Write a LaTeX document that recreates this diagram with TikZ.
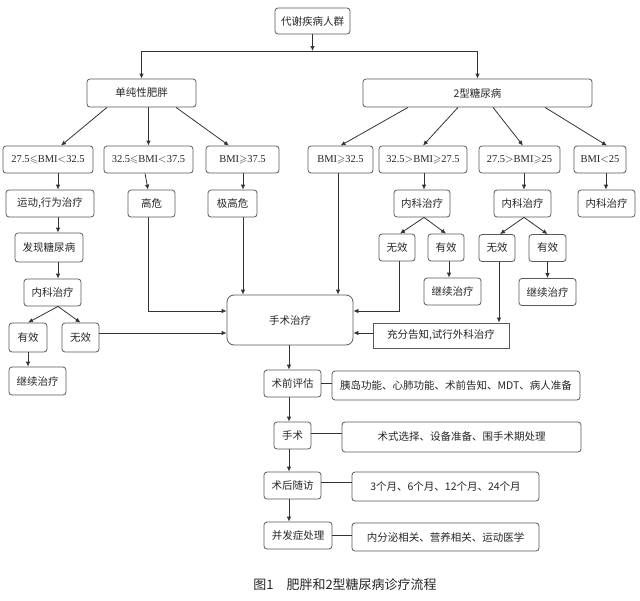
\documentclass[tikz,border=0pt]{standalone}
\usepackage{fontspec}
\usepackage{amssymb}
\usepackage{tikz}
\usetikzlibrary{arrows.meta}
\setmainfont{Liberation Serif}
\newfontfamily\cjk{Noto Sans CJK SC}
\newcommand{\boxLine}[0]{0.8pt}
\newcommand{\boxFont}[0]{\fontsize{10.5}{12}\selectfont}
\newcommand{\captionFont}[0]{\fontsize{13}{15}\selectfont}

\begin{document}
\begin{tikzpicture}[x=1pt, y=-1pt]
  \tikzset{every node/.style={font=\cjk\boxFont, text=black!85},
    box/.style={draw=black!65, line width=\boxLine, rounded corners=3pt, inner sep=0pt, minimum height=27pt},
    flatbox/.style={draw=black!65, line width=\boxLine, inner sep=0pt, minimum height=25pt},
    bmi/.style={box, font=\rmfamily\boxFont},
    link/.style={draw=black!80, line width=0.8pt, -{Latex[length=5pt,width=4.5pt]}},
    bar/.style={draw=black!80, line width=0.8pt}}
  \useasboundingbox (0,0) rectangle (640,600);
  \node[box, minimum width=75pt, minimum height=26pt] (POP) at (312.5,21) {代谢疾病人群};
  \node[box, minimum width=109pt, minimum height=28pt] (OBE) at (141.5,93) {单纯性肥胖};
  \node[box, minimum width=229pt, minimum height=28pt] (DM) at (477.5,93) {2型糖尿病};
  % BMI
  \node[bmi, minimum width=90pt] (BMI-1-1) at (48,159.5) {27.5$\leqslant$BMI$<$32.5};
  \node[bmi, minimum width=89pt] (BMI-1-2) at (148.5,159.5) {32.5$\leqslant$BMI$<$37.5};
  \node[bmi, minimum width=73pt] (BMI-1-3) at (242.5,159.5) {BMI$\geqslant$37.5};
  \node[bmi, minimum width=65pt] (BMI-2-1) at (340.5,159.5) {BMI$\geqslant$32.5};
  \node[bmi, minimum width=88pt] (BMI-2-2) at (423,159.5) {32.5$>$BMI$\geqslant$27.5};
  \node[bmi, minimum width=81pt] (BMI-2-3) at (519.5,159.5) {27.5$>$BMI$\geqslant$25};
  \node[bmi, minimum width=52pt] (BMI-2-4) at (600,159.5) {BMI$<$25};
  % left
  \node[box, minimum width=88pt] (STEP-1) at (50,203.5) {运动,行为治疗};
  \node[box, minimum width=47pt] (RISK-1) at (151.5,203.5) {高危};
  \node[box, minimum width=49pt] (RISK-2) at (232.5,203.5) {极高危};
  \node[box, minimum width=68pt, minimum height=29pt] (FIND-1) at (49,247.5) {发现糖尿病};
  \node[box, minimum width=57pt] (MED-1) at (52.5,292.5) {内科治疗};
  \node[box, minimum width=38pt, minimum height=29pt] (YES-1) at (28,337.5) {有效};
  \node[box, minimum width=37pt, minimum height=29pt] (NO-1) at (80.5,337.5) {无效};
  \node[box, minimum width=57pt, minimum height=28pt] (KEEP-1) at (37.5,381) {继续治疗};
  \node[box, rounded corners=7pt, minimum width=126pt, minimum height=50pt] (SURG) at (290,320) {手术治疗};
  % right
  \node[box, minimum width=56pt] (MED-2) at (422,203.5) {内科治疗};
  \node[box, minimum width=57pt] (MED-3) at (522.5,203.5) {内科治疗};
  \node[box, minimum width=57pt] (MED-4) at (606.5,203.5) {内科治疗};
  \node[box, minimum width=36pt] (NO-2) at (397,247.5) {无效};
  \node[box, minimum width=36pt] (YES-2) at (446,247.5) {有效};
  \node[box, minimum width=57pt] (KEEP-2) at (452.5,291.5) {继续治疗};
  \node[box, minimum width=36pt] (NO-3) at (497,248) {无效};
  \node[box, minimum width=37pt] (YES-3) at (547.5,248) {有效};
  \node[box, minimum width=57pt] (KEEP-3) at (547.5,292) {继续治疗};
  \node[flatbox, minimum width=136pt] (INFORM) at (441,335.5) {充分告知,试行外科治疗};
  % bottom
  \node[box, minimum width=57pt] (PRE) at (292.5,383.5) {术前评估};
  \node[box, minimum width=248pt, minimum height=29pt] (PRE-D) at (456,385.5) {胰岛功能、心肺功能、术前告知、MDT、病人准备};
  \node[box, minimum width=37pt] (OP) at (292.5,435.5) {手术};
  \node[box, minimum width=239pt, minimum height=30pt] (OP-D) at (461.5,437) {术式选择、设备准备、围手术期处理};
  \node[box, minimum width=57pt] (POST) at (292.5,485.5) {术后随访};
  \node[box, minimum width=187pt, minimum height=29pt] (POST-D) at (445.5,486.5) {3个月、6个月、12个月、24个月};
  \node[box, minimum width=68pt] (COMP) at (298,535.5) {并发症处理};
  \node[box, minimum width=187pt, minimum height=28pt] (COMP-D) at (445.5,537) {内分泌相关、营养相关、运动医学};
  \node[font=\cjk\captionFont] (CAPTION) at (345,585) {图1\quad 肥胖和2型糖尿病诊疗流程};
  \coordinate (SPLIT) at (312.5,51);
  \coordinate (LEFT-X) at (58,0);
  \coordinate (MID-X) at (289,0);
  \draw[link] (POP.south) -- (SPLIT);
  \draw[link] (SPLIT) -| (OBE.north);
  \draw[link] (SPLIT) -| (DM.north);
  \draw[link] ([xshift=-34.5pt]OBE.south) -- ([xshift=13pt]BMI-1-1.north);
  \draw[link] (OBE.south -| BMI-1-2.north) -- (BMI-1-2.north);
  \draw[link] ([xshift=34.5pt]OBE.south) -- ([xshift=-13.5pt]BMI-1-3.north);
  \draw[link] ([xshift=-69.5pt]DM.south) -- (BMI-2-1.north);
  \draw[link] ([xshift=-19.5pt]DM.south) -- (BMI-2-2.north);
  \draw[link] ([xshift=15.5pt]DM.south) -- ([xshift=3.5pt]BMI-2-3.north);
  \draw[link] ([xshift=67.5pt]DM.south) -- ([xshift=7pt]BMI-2-4.north);
  \draw[link] (BMI-1-1.south -| LEFT-X) -- (STEP-1.north -| LEFT-X);
  \draw[link] (STEP-1.south -| LEFT-X) -- (FIND-1.north -| LEFT-X);
  \draw[link] (FIND-1.south -| LEFT-X) -- (MED-1.north -| LEFT-X);
  \draw[link] (MED-1.south -| LEFT-X) -- (YES-1.north);
  \draw[link] (MED-1.south -| LEFT-X) -- (NO-1.north);
  \draw[link] (YES-1.south) -- (YES-1.south |- KEEP-1.north);
  \draw[link] ([yshift=4.5pt]NO-1.east) -- ([yshift=4.5pt]NO-1.east -| SURG.west);
  \draw[link] ([xshift=-3.5pt]BMI-1-2.south) -- ([xshift=-3.5pt]RISK-1.north);
  \draw[link] ([xshift=10.5pt]BMI-1-3.south -| RISK-2.north) -- ([xshift=10.5pt]RISK-2.north);
  \draw[link] ([xshift=-3.5pt]RISK-1.south) |- ([yshift=9pt]SURG.west);
  \draw[link] ([xshift=10.5pt]RISK-2.south) -- ([xshift=10.5pt]RISK-2.south |- SURG.north);
  \draw[link] ([xshift=-2.5pt]BMI-2-1.south) -- ([xshift=-2.5pt]BMI-2-1.south |- SURG.north);
  \draw[link] ([xshift=1pt]BMI-2-2.south) -- ([xshift=1pt]BMI-2-2.south |- MED-2.north);
  \draw[link] ([xshift=2pt]MED-2.south) -- ([xshift=3pt]NO-2.north);
  \draw[link] ([xshift=2pt]MED-2.south) -- (YES-2.north);
  \draw[link] ([xshift=3pt]YES-2.south) -- ([xshift=3pt]YES-2.south |- KEEP-2.north);
  \draw[link] ([xshift=2pt]NO-2.south) |- ([yshift=9pt]SURG.east);
  \draw[link] ([xshift=4.5pt]BMI-2-3.south) -- ([xshift=4.5pt]BMI-2-3.south |- MED-3.north);
  \draw[link] ([xshift=1.5pt]MED-3.south) -- ([xshift=3pt]NO-3.north);
  \draw[link] ([xshift=1.5pt]MED-3.south) -- (YES-3.north);
  \draw[link] (YES-3.south) -- (YES-3.south |- KEEP-3.north);
  \draw[link] ([xshift=2pt]NO-3.south) -- ([xshift=2pt]NO-3.south |- INFORM.north);
  \draw[link] ([yshift=2.5pt]INFORM.west) -- ([yshift=2.5pt]INFORM.west -| SURG.east);
  \draw[link] ([xshift=6pt]BMI-2-4.south) -- ([xshift=6pt]BMI-2-4.south |- MED-4.north);
  \draw[link] (SURG.south -| MID-X) -- (PRE.north -| MID-X);
  \draw[link] (PRE.south -| MID-X) -- (OP.north -| MID-X);
  \draw[link] (OP.south -| MID-X) -- (POST.north -| MID-X);
  \draw[link] (POST.south -| MID-X) -- (COMP.north -| MID-X);
  \draw[bar] (PRE.east) -- (PRE.east -| PRE-D.west);
  \draw[bar] ([yshift=2.5pt]OP.east) -- ([yshift=2.5pt]OP.east -| OP-D.west);
  \draw[bar] ([yshift=3.5pt]POST.east) -- ([yshift=3.5pt]POST.east -| POST-D.west);
  \draw[bar] (COMP.east) -- (COMP.east -| COMP-D.west);
\end{tikzpicture}
\end{document}
